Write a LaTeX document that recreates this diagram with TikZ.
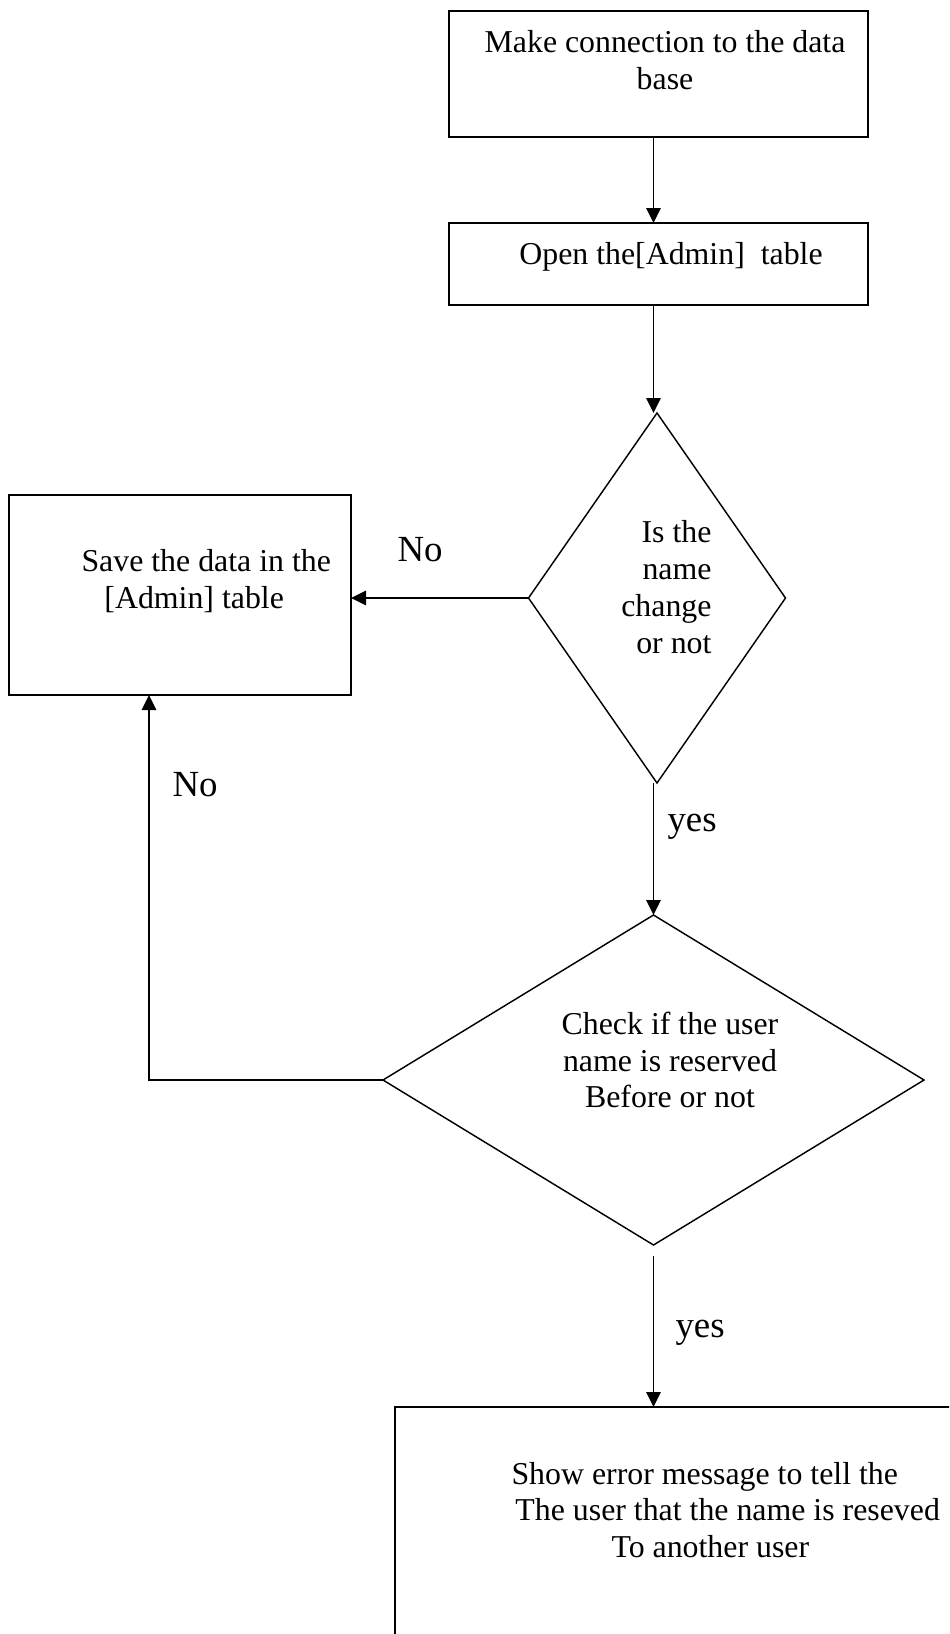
\documentclass[tikz,border=0pt]{standalone}
\usepackage{fontspec}
\setmainfont{Liberation Serif}
\usetikzlibrary{shapes.geometric,arrows.meta}
\begin{document}
\begin{tikzpicture}[x=0.38pt,y=-0.38pt,
  box/.style={draw,line width=0.6pt,inner sep=0pt,outer sep=0pt},
  dia/.style={draw,diamond,line width=0.55pt,inner sep=0pt,outer sep=0pt},
  txt/.style={inner sep=0pt,font=\fontsize{12.1}{14}\selectfont},
  lbl/.style={inner sep=0pt,anchor=base west,font=\fontsize{14}{16}\selectfont},
  arr/.style={line width=0.6pt,-{Triangle[length=5.7pt,width=5.5pt]}}]
\clip (0,0) rectangle (949,1634);
% boxes
\node[box,minimum width=159.22pt,minimum height=47.88pt] (top) at (658.5,74) {};
\node[box,minimum width=159.22pt,minimum height=31.16pt] (b2) at (658.5,264) {};
\node[box,minimum width=129.96pt,minimum height=76pt] (save) at (180,595) {};
\node[box,minimum width=229.9pt,minimum height=111.34pt] (err) at (697.5,1553.5) {};
% diamonds
\node[dia,minimum width=97.66pt,minimum height=140.6pt] (d1) at (657,598) {};
\node[dia,minimum width=205.58pt,minimum height=125.4pt] (d2) at (653.5,1080) {};
% texts
\node[txt,align=center] (t1) at (665,60) {Make connection to the data\\base};
\node[txt] (t2) at (671,257) {Open the[Admin]\ \ table};
\node[txt,align=right,anchor=east] (t3) at (712,587) {Is the\\name\\change\\or not};
\node[txt,align=left,anchor=west] (t4) at (81,581) {Save the data in the\\\hspace*{8.7pt}{[Admin]} table};
\node[txt,align=center] (t5) at (670,1060) {Check if the user\\name is reserved\\Before or not};
\node[txt,align=left,anchor=west] (t6) at (511,1510) {Show error message to tell the\\\hspace*{1.5pt}The user that the name is reseved\\\hspace*{38pt}To another user};
% labels
\node[lbl] (no1) at (397,561) {No};
\node[lbl] (no2) at (172,796) {No};
\node[lbl] (yes1) at (667,831) {yes};
\node[lbl] (yes2) at (675,1337) {yes};
% connectors
\draw[arr] (top.south -| d2.north) -- (b2.north -| d2.north);
\draw[arr] (b2.south -| d2.north) -- (d2.north |- d1.north);
\draw[arr] (d1.west) -- (d1.west -| save.east);
\draw[arr] (d2.north |- d1.south) -- (d2.north);
\coordinate (bend) at (149,1080);
\draw[arr] (d2.west) -- (bend) -- (bend |- save.south);
\draw[arr,shorten <=4pt] (d2.south) -- (err.north -| d2.south);
\end{tikzpicture}
\end{document}
